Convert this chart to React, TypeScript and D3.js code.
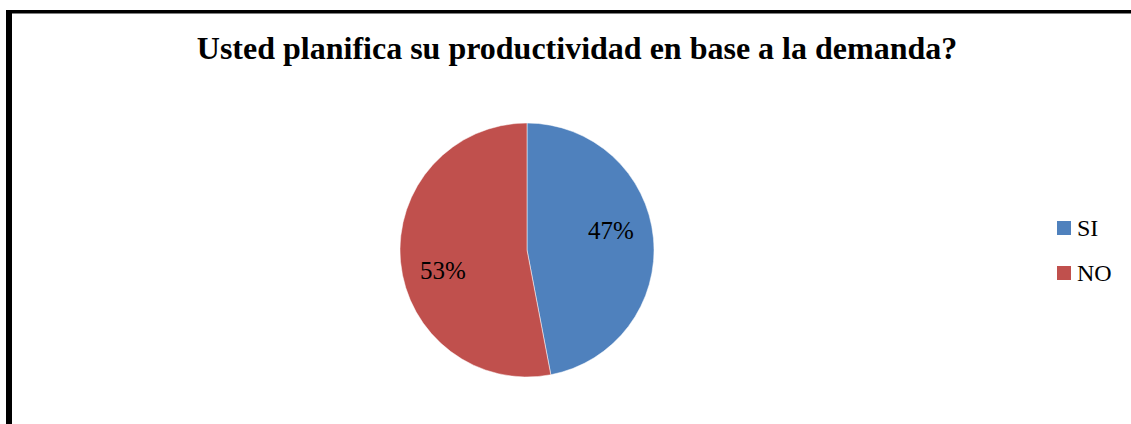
import * as d3 from 'd3';

// Chart data
const categories = ['SI', 'NO'];
const values = [47, 53];
const colors = ['#4F81BD', '#C0504D'];
const title = 'Usted planifica su productividad en base a la demanda?';

const W = 1131;
const H = 424;
const FONT = '"Liberation Serif", "Times New Roman", serif';

export default function App() {
  const cx = 527;
  const cy = 250;
  const r = 127;

  const pie = d3.pie<number>().sort(null).value((d) => d);
  const arcs = pie(values);
  const arc = d3.arc<d3.PieArcDatum<number>>().innerRadius(0).outerRadius(r);
  const total = d3.sum(values);

  // label position, pulled slightly counter-clockwise like the original
  const labelPos = (a: d3.PieArcDatum<number>) => {
    const mid = (a.startAngle + a.endAngle) / 2 - 0.14;
    const lr = r * 0.68;
    return [Math.sin(mid) * lr, -Math.cos(mid) * lr];
  };

  return (
    <svg
      width={W}
      height={H}
      style={{ position: 'absolute', left: 0, top: 0, display: 'block', background: '#fff' }}
    >
      {/* frame */}
      <rect x={6} y={10} width={W} height={3.5} fill="#000" />
      <rect x={6} y={10} width={6} height={H} fill="#000" />

      <text
        x={577}
        y={59}
        textAnchor="middle"
        fontFamily={FONT}
        fontWeight="bold"
        fontSize={32}
        fill="#000"
      >
        {title}
      </text>

      <g transform={`translate(${cx},${cy})`}>
        {arcs.map((a, i) => (
          <path key={categories[i]} d={arc(a) || ''} fill={colors[i]} stroke="#fff" strokeWidth={0.5} />
        ))}
        {arcs.map((a, i) => {
          const [lx, ly] = labelPos(a);
          return (
            <text
              key={'l' + categories[i]}
              x={lx}
              y={ly}
              dy="0.35em"
              textAnchor="middle"
              fontFamily={FONT}
              fontSize={25}
              fill="#000"
            >
              {`${Math.round((a.data / total) * 100)}%`}
            </text>
          );
        })}
      </g>

      <g transform="translate(1057,221)">
        {categories.map((c, i) => (
          <g key={c} transform={`translate(0,${i * 45})`}>
            <rect x={0} y={0} width={14} height={14} fill={colors[i]} />
            <text x={20} y={15} fontFamily={FONT} fontSize={24} fill="#000">
              {c}
            </text>
          </g>
        ))}
      </g>
    </svg>
  );
}
